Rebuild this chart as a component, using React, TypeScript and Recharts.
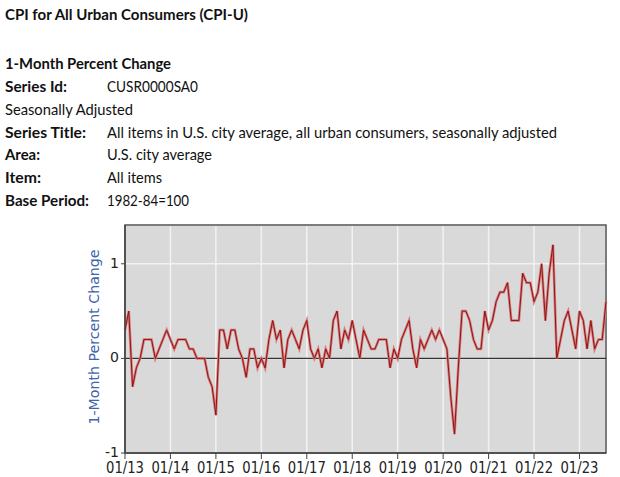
import { CartesianGrid, Line, LineChart, ReferenceArea, ReferenceLine, XAxis, YAxis } from "recharts";

// 1-month % change, CPI-U, seasonally adjusted
const y2013 = [0.3, 0.5, -0.3, -0.1, 0.0, 0.2, 0.2, 0.2, 0.0, 0.1, 0.2, 0.3];
const y2014 = [0.2, 0.1, 0.2, 0.2, 0.2, 0.1, 0.1, 0.0, 0.0, 0.0, -0.2, -0.3];
const y2015 = [-0.6, 0.3, 0.3, 0.1, 0.3, 0.3, 0.1, 0.0, -0.2, 0.1, 0.1, -0.1];
const y2016 = [0.0, -0.1, 0.2, 0.4, 0.2, 0.3, -0.1, 0.2, 0.3, 0.2, 0.1, 0.3];
const y2017 = [0.4, 0.1, 0.0, 0.1, -0.1, 0.1, 0.0, 0.4, 0.5, 0.1, 0.3, 0.2];
const y2018 = [0.4, 0.2, 0.0, 0.3, 0.2, 0.1, 0.1, 0.2, 0.2, 0.2, -0.1, 0.1];
const y2019 = [0.0, 0.2, 0.3, 0.4, 0.1, -0.1, 0.2, 0.1, 0.2, 0.3, 0.2, 0.3];
const y2020 = [0.2, 0.1, -0.4, -0.8, -0.1, 0.5, 0.5, 0.4, 0.2, 0.1, 0.1, 0.5];
const y2021 = [0.3, 0.4, 0.6, 0.7, 0.7, 0.8, 0.4, 0.4, 0.4, 0.9, 0.8, 0.8];
const y2022 = [0.6, 0.7, 1.0, 0.4, 0.9, 1.2, 0.0, 0.2, 0.4, 0.5, 0.3, 0.1];
const y2023 = [0.5, 0.4, 0.1, 0.4, 0.1, 0.2, 0.2, 0.6];

const tickLabels = ["01/13", "01/14", "01/15", "01/16", "01/17", "01/18", "01/19", "01/20", "01/21", "01/22", "01/23"];
const yTicks = [-1, 0, 1];
const yDomain: [number, number] = [-1, 1.41];
const lastMonth = 127;

const headerTitle = "CPI for All Urban Consumers (CPI-U)";
const subTitle = "1-Month Percent Change";
const axisTitle = "1-Month Percent Change";
const infoRows = [
  { label: "Series Id:", value: "CUSR0000SA0" },
  { label: "", value: "Seasonally Adjusted" },
  { label: "Series Title:", value: "All items in U.S. city average, all urban consumers, seasonally adjusted" },
  { label: "Area:", value: "U.S. city average" },
  { label: "Item:", value: "All items" },
  { label: "Base Period:", value: "1982-84=100" },
];

const values = [...y2013, ...y2014, ...y2015, ...y2016, ...y2017, ...y2018, ...y2019, ...y2020, ...y2021, ...y2022, ...y2023];
const data = values.map((v, i) => ({ m: i, pct: v }));
const xTicks = tickLabels.map((_, i) => i * 12);

const HEAD_FONT = "Lato, 'Noto Sans', sans-serif";
const AXIS_FONT = "'DejaVu Sans', sans-serif";

const labelLen: Record<string, number> = {
  "Series Id:": 62,
  "Series Title:": 81,
  "Area:": 35,
  "Item:": 36,
  "Base Period:": 84,
};
const valueLen: Record<string, number> = {
  CUSR0000SA0: 91,
  "Seasonally Adjusted": 128,
  "All items in U.S. city average, all urban consumers, seasonally adjusted": 450,
  "U.S. city average": 105,
  "All items": 55,
  "1982-84=100": 82,
};

function Header() {
  return (
    <svg width={620} height={220} style={{ position: "absolute", left: 0, top: 0 }}>
      <g fontFamily={HEAD_FONT} fontSize={15} fill="#111">
        <text x={5} y={20} fontWeight={700} textLength={243} lengthAdjust="spacingAndGlyphs">
          {headerTitle}
        </text>
        <text x={5} y={69} fontWeight={700} textLength={166} lengthAdjust="spacingAndGlyphs">
          {subTitle}
        </text>
        {infoRows.map((r, i) => {
          const y = 92 + i * 22.8;
          return (
            <g key={i}>
              {r.label && (
                <text x={5} y={y} fontWeight={700} textLength={labelLen[r.label]} lengthAdjust="spacingAndGlyphs">
                  {r.label}
                </text>
              )}
              <text x={r.label ? 107 : 5} y={y} textLength={valueLen[r.value]} lengthAdjust="spacingAndGlyphs">
                {r.value}
              </text>
            </g>
          );
        })}
      </g>
    </svg>
  );
}

function XTick({ x, y, payload }: any) {
  const label = tickLabels[Math.round(payload.value / 12)];
  return (
    <text x={x} y={y + 12} textAnchor="middle" fontFamily={AXIS_FONT} fontSize={15} fill="#222" textLength={38} lengthAdjust="spacingAndGlyphs">
      {label}
    </text>
  );
}

function YTick({ x, y, payload }: any) {
  return (
    <text x={x} y={y + 4} textAnchor="end" fontFamily={AXIS_FONT} fontSize={14} fill="#222">
      {payload.value}
    </text>
  );
}

function YTitle({ viewBox }: any) {
  const cx = viewBox.x + 9;
  const cy = viewBox.y + viewBox.height / 2 - 2;
  return (
    <text
      x={cx}
      y={cy}
      transform={`rotate(-90 ${cx} ${cy})`}
      textAnchor="middle"
      fontFamily={AXIS_FONT}
      fontSize={14}
      fill="#4164aa"
      textLength={175}
      lengthAdjust="spacingAndGlyphs"
    >
      {axisTitle}
    </text>
  );
}

export default function App() {
  return (
    <div style={{ position: "absolute", left: 0, top: 0, width: 620, height: 477, background: "#fff" }}>
      <Header />
      <div style={{ position: "absolute", left: 0, top: 0 }}>
        <LineChart width={620} height={477} data={data} margin={{ top: 225, right: 14, bottom: 0, left: 90 }}>
          <CartesianGrid fill="#d9d9d9" stroke="#f2f2f2" strokeWidth={1.5} />
          <XAxis
            dataKey="m"
            type="number"
            domain={[0, lastMonth]}
            ticks={xTicks}
            height={24}
            tick={<XTick />}
            tickSize={6}
            tickMargin={2}
            axisLine={{ stroke: "#444", strokeWidth: 1.5 }}
            tickLine={{ stroke: "#444" }}
            interval={0}
          />
          <YAxis
            type="number"
            domain={yDomain}
            ticks={yTicks}
            width={35}
            tick={<YTick />}
            tickSize={4}
            tickMargin={2}
            axisLine={{ stroke: "#444", strokeWidth: 1.5 }}
            tickLine={{ stroke: "#444" }}
            allowDataOverflow
            label={{ content: (p: any) => <YTitle {...p} /> }}
          />
          <ReferenceArea x1={0} x2={lastMonth} y1={yDomain[0]} y2={yDomain[1]} fill="none" stroke="#555" strokeWidth={1.5} ifOverflow="visible" />
          <ReferenceLine y={0} stroke="#333" strokeWidth={1.2} />
          <Line type="linear" dataKey="pct" stroke="#d77a7a" strokeWidth={2.6} dot={false} isAnimationActive={false} />
          <Line type="linear" dataKey="pct" stroke="#8e1414" strokeWidth={1} dot={false} isAnimationActive={false} />
        </LineChart>
      </div>
    </div>
  );
}
